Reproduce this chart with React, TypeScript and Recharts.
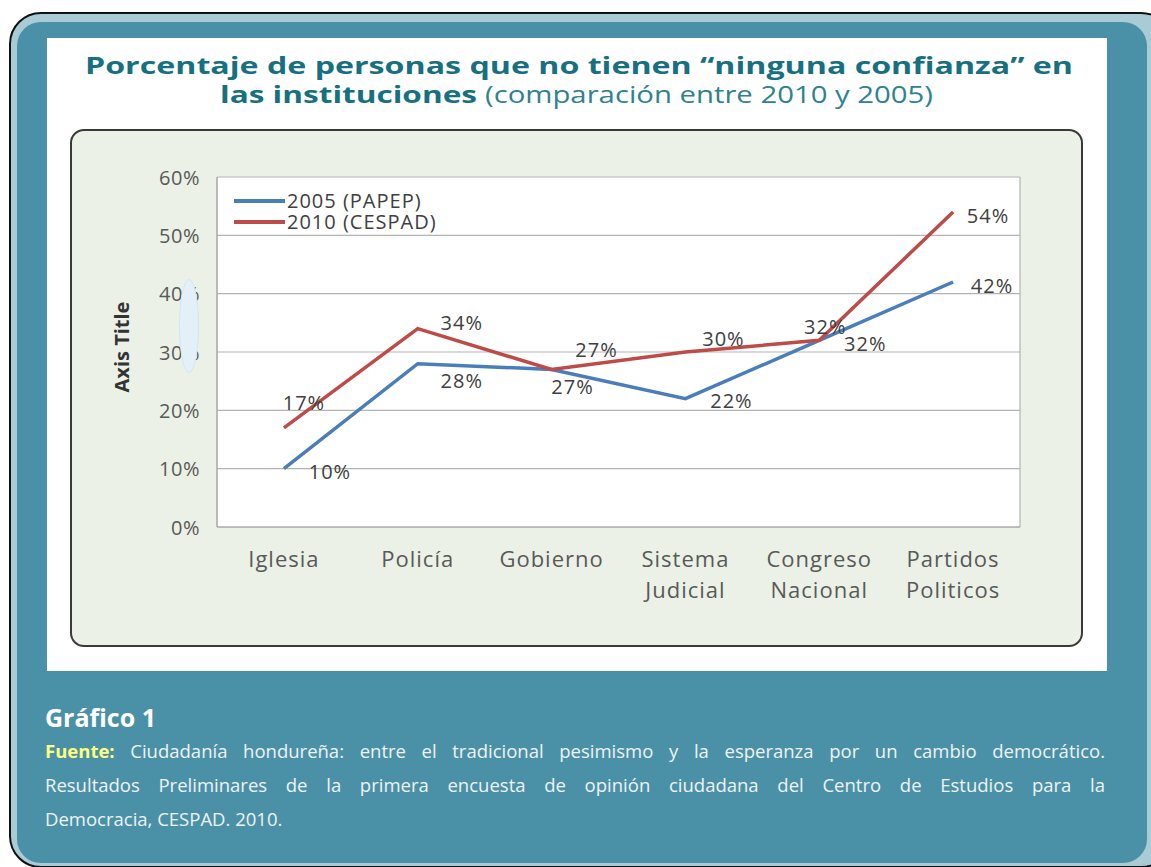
import React from 'react';
import { LineChart, Line, XAxis, YAxis, CartesianGrid, LabelList, Legend } from 'recharts';

const categories = ['Iglesia', 'Policía', 'Gobierno', 'Sistema Judicial', 'Congreso Nacional', 'Partidos Politicos'];
const values2005 = [10, 28, 27, 22, 32, 42];
const values2010 = [17, 34, 27, 30, 32, 54];
const yTicks = [0, 10, 20, 30, 40, 50, 60];
const seriesNames = ['2005 (PAPEP)', '2010 (CESPAD)'];

// label placement offsets (layout, not data)
const labelDx2005 = [46, 44, 21, 46, 46, 39];
const labelDy2005 = [3, 17, 17, 2, 3, 3];
const labelDx2010 = [20, 44, 45, 38, 6, 35];
const labelDy2010 = [-25, -6, -20, -14, -14, 3];

const data = categories.map((name, i) => ({ name, a: values2005[i], b: values2010[i] }));

const BLUE = '#4a7ebb';
const RED = '#be4b48';
const FONT = '"Open Sans", "Noto Sans", sans-serif';
const TEAL = '#4a91a8';

const makeLabel = (dx: number[], dy: number[]) => (props: any) => {
  const { x, y, value, index } = props;
  return (
    <text x={x + dx[index]} y={y + dy[index]} textAnchor="middle" dominantBaseline="central"
      fontFamily={FONT} fontSize={20} fill="#404040" letterSpacing={1}>
      {value}%
    </text>
  );
};

const XTick = (props: any) => {
  const { x, y, payload } = props;
  const words = String(payload.value).split(' ');
  return (
    <text x={x} y={y} textAnchor="middle" fontFamily={FONT} fontSize={22} fill="#595959" letterSpacing={1}>
      {words.map((w, i) => (
        <tspan key={i} x={x} dy={i === 0 ? 38 : 31}>{w}</tspan>
      ))}
    </text>
  );
};

const YTick = (props: any) => {
  const { x, y, payload } = props;
  return (
    <text x={x} y={y} textAnchor="end" dominantBaseline="central" fontFamily={FONT} fontSize={20} fill="#595959" letterSpacing={0.5}>
      {payload.value}%
    </text>
  );
};

const AxisTitle = (props: any) => {
  const vb = props.viewBox;
  const cx = vb.x - 8;
  const cy = vb.y + vb.height / 2 - 5;
  return (
    <text x={cx} y={cy} transform={`rotate(-90, ${cx}, ${cy})`} textAnchor="middle"
      fontFamily={FONT} fontWeight="bold" fontSize={20} fill="#333">
      Axis Title
    </text>
  );
};

const LegendContent = () => (
  <div style={{ fontFamily: FONT, fontSize: 20, color: '#404040', lineHeight: '21px', letterSpacing: 1 }}>
    {seriesNames.map((n, i) => (
      <div key={n} style={{ display: 'flex', alignItems: 'center', height: 21 }}>
        <svg width={55} height={21} style={{ flex: 'none' }}><line x1={2} x2={53} y1={11} y2={11} stroke={i === 0 ? BLUE : RED} strokeWidth={4} /></svg>
        <span style={{ whiteSpace: 'nowrap' }}>{n}</span>
      </div>
    ))}
  </div>
);

export default function App() {
  return (
    <div style={{ position: 'fixed', left: 0, top: 0, width: 1151, height: 867, overflow: 'hidden', background: '#fff' }}>
      {/* outer frame */}
      <div style={{ position: 'absolute', left: 9, top: 12, width: 1160, height: 852, border: '2px solid #111', borderRadius: 32, background: '#a8cbd5' }} />
      <div style={{ position: 'absolute', left: 17, top: 22, width: 1130, height: 841, borderRadius: 24, background: TEAL }} />
      {/* white panel */}
      <div style={{ position: 'absolute', left: 47, top: 38, width: 1060, height: 633, background: '#fff' }} />
      {/* green box */}
      <div style={{ position: 'absolute', left: 70, top: 129, width: 1009, height: 514, border: '2px solid #3a3a3a', borderRadius: 14, background: '#ebf1e6' }} />
      {/* title */}
      <svg style={{ position: 'absolute', left: 0, top: 0 }} width={1151} height={120}>
        <text x={85} y={74} textLength={988} lengthAdjust="spacingAndGlyphs" fontFamily={FONT} fontWeight="bold" fontSize={24} fill="#17707f">
          Porcentaje de personas que no tienen “ninguna confianza” en
        </text>
        <text x={220} y={103} textLength={257} lengthAdjust="spacingAndGlyphs" fontFamily={FONT} fontWeight="bold" fontSize={24} fill="#17707f">
          las instituciones
        </text>
        <text x={485} y={103} textLength={448} lengthAdjust="spacingAndGlyphs" fontFamily={FONT} fontSize={24} fill="#2f8290">
          (comparación entre 2010 y 2005)
        </text>
      </svg>
      <div style={{ position: 'absolute', left: 0, top: 0 }}>
        <LineChart width={1151} height={867} data={data} margin={{ top: 177, right: 131, bottom: 280, left: 137 }}>
          <CartesianGrid fill="#fff" stroke="#b4b4b4" strokeWidth={1.2}
            verticalCoordinatesGenerator={(p: any) => [p.offset.left, p.offset.left + p.offset.width]} />
          <XAxis dataKey="name" scale="band" interval={0} tickLine={false} axisLine={{ stroke: '#a6a6a6' }} tick={<XTick />} height={60} tickSize={0} />
          <YAxis domain={[0, 60]} ticks={yTicks} tickLine={false} tickSize={0} tickMargin={17} axisLine={{ stroke: '#a6a6a6' }}
            tick={<YTick />} width={80} label={<AxisTitle />} />
          <Legend layout="horizontal" verticalAlign="middle" align="center" content={<LegendContent />}
            wrapperStyle={{ position: 'absolute', left: 232, top: 190, width: 260, height: 44 }} />
          <Line dataKey="a" name={seriesNames[0]} stroke={BLUE} strokeWidth={3.5} dot={false} isAnimationActive={false}>
            <LabelList dataKey="a" content={makeLabel(labelDx2005, labelDy2005)} />
          </Line>
          <Line dataKey="b" name={seriesNames[1]} stroke={RED} strokeWidth={3.5} dot={false} isAnimationActive={false}>
            <LabelList dataKey="b" content={makeLabel(labelDx2010, labelDy2010)} />
          </Line>
        </LineChart>
      </div>
      {/* pale ellipse artifact */}
      <div style={{ position: 'absolute', left: 179, top: 279, width: 20, height: 94, borderRadius: '50%', background: '#e4f0f7', border: '1px solid #d3e5ee', boxSizing: 'border-box' }} />
      {/* caption */}
      <div style={{ position: 'absolute', left: 45, top: 700, width: 1060, fontFamily: '"Open Sans", sans-serif', color: '#eef3f5' }}>
        <div style={{ fontWeight: 'bold', fontSize: 25, color: '#fff', lineHeight: '34px' }}>Gráfico 1</div>
        <div style={{ fontSize: 18.5, lineHeight: '34px', textAlign: 'justify', textAlignLast: 'justify', whiteSpace: 'nowrap' }}>
          <span style={{ fontWeight: 'bold', color: '#ffff80' }}>Fuente:</span> Ciudadanía hondureña: entre el tradicional pesimismo y la esperanza por un cambio democrático.
        </div>
        <div style={{ fontSize: 18.5, lineHeight: '34px', textAlign: 'justify', textAlignLast: 'justify' }}>
          Resultados Preliminares de la primera encuesta de opinión ciudadana del Centro de Estudios para la
        </div>
        <div style={{ fontSize: 18.5, lineHeight: '34px' }}>Democracia, CESPAD. 2010.</div>
      </div>
    </div>
  );
}
